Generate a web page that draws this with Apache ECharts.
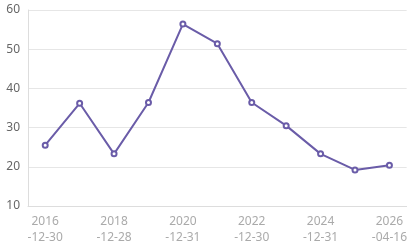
<!DOCTYPE html>
<html><head><meta charset="utf-8">
<script src="https://cdn.jsdelivr.net/npm/echarts@6/dist/echarts.min.js"></script>
<style>html,body{margin:0;padding:0;background:#fff}#c{width:410px;height:246px}</style>
</head><body><div id="c"></div>
<script>
const categories = ["2016-12-30","2017-12-29","2018-12-28","2019-12-31","2020-12-31","2021-12-31","2022-12-30","2023-12-29","2024-12-31","2025-12-31","2026-04-16"];
const values = [25.5, 36.2, 23.3, 36.4, 56.4, 51.4, 36.4, 30.5, 23.3, 19.2, 20.4];
const yTicks = [10, 20, 30, 40, 50, 60];
const chart = echarts.init(document.getElementById('c'));
chart.setOption({
  animation: false,
  grid: {left: 28, right: 3, top: 10, bottom: 40},
  xAxis: {
    type: 'category', data: categories, boundaryGap: true,
    axisLine: {lineStyle: {color: '#dddddd'}},
    axisTick: {show: false},
    axisLabel: {interval: 1, color: '#aaaaaa', fontSize: 12, lineHeight: 16, margin: 8,
      fontFamily: 'Noto Sans',
      formatter: v => v.slice(0,4) + '\n' + v.slice(4)}
  },
  yAxis: {
    type: 'value', min: yTicks[0], max: yTicks[yTicks.length-1], interval: 10,
    axisLine: {show: true, lineStyle: {color: '#dddddd'}},
    axisTick: {show: false},
    splitLine: {lineStyle: {color: '#e6e6e6'}},
    axisLabel: {color: '#666666', fontSize: 12, margin: 8, fontFamily: 'Noto Sans'}
  },
  series: [{
    type: 'line', data: values, symbol: 'emptyCircle', symbolSize: 5,
    lineStyle: {color: '#6a5ca8', width: 2},
    itemStyle: {color: '#6a5ca8', borderWidth: 1.5}
  }]
});
</script></body></html>
